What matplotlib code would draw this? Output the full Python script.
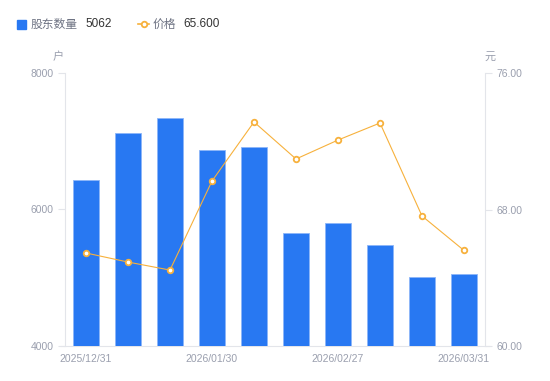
import matplotlib.pyplot as plt
import numpy as np

plt.rcParams['font.family'] = ['Noto Sans CJK SC', 'DejaVu Sans']

dates = ['2025/12/31', '2026/01/09', '2026/01/20', '2026/01/30', '2026/02/10',
         '2026/02/13', '2026/02/27', '2026/03/10', '2026/03/20', '2026/03/31']
holders = [6432, 7121, 7341, 6872, 6916, 5656, 5802, 5480, 5011, 5062]
price = [65.45, 64.92, 64.45, 69.67, 73.13, 70.96, 72.07, 73.07, 67.62, 65.60]

left_ticks = [4000, 6000, 8000]
right_ticks = [60.0, 68.0, 76.0]

blue = '#2878F2'
orange = '#F7B13C'
axis_col = '#E3E5EA'
tick_col = '#9A9FAE'
num_font = ['Liberation Sans', 'DejaVu Sans']

fig = plt.figure(figsize=(5.5, 3.81), dpi=100)
ax = fig.add_axes([65 / 550, 35 / 381, 420 / 550, 273 / 381])
x = np.arange(len(dates))

ax.bar(x, holders, width=0.6, color=blue, edgecolor='#8DB6F8', linewidth=0.6, zorder=2)
ax.set_xlim(-0.5, len(dates) - 0.5)
ax.set_ylim(4000, 8000)
ax.set_yticks(left_ticks)
ax.set_yticklabels([str(t) for t in left_ticks], family=num_font)
ax.set_xticks(x[::3])
ax.set_xticklabels(dates[::3], family=num_font)

ax2 = ax.twinx()
ax2.plot(x, price, color=orange, linewidth=0.8, marker='o', markersize=4,
         markerfacecolor='white', markeredgecolor=orange, markeredgewidth=1.3, zorder=3)
ax2.set_ylim(60, 76)
ax2.set_yticks(right_ticks)
ax2.set_yticklabels([f'{t:.2f}' for t in right_ticks], family=num_font)

for a in (ax, ax2):
    for s in a.spines.values():
        s.set_visible(False)
    a.tick_params(colors=tick_col, labelsize=7.5, length=5, width=0.8, pad=3)
    a.tick_params(axis='y', color=axis_col)
    a.tick_params(axis='x', length=0, pad=6)

ax.spines['left'].set_visible(True)
ax.spines['left'].set_color(axis_col)
ax.spines['bottom'].set_visible(True)
ax.spines['bottom'].set_color(axis_col)
ax2.spines['right'].set_visible(True)
ax2.spines['right'].set_color(axis_col)
ax.spines['bottom'].set_bounds(-0.6, len(dates) - 0.4)
ax.spines['bottom'].set_zorder(0)

# unit labels
fig.text(58 / 550, 1 - 57 / 381, '户', color=tick_col, fontsize=8, ha='center', va='center')
fig.text(490 / 550, 1 - 57 / 381, '元', color=tick_col, fontsize=8, ha='center', va='center')

# legend row
ly = 1 - 24 / 381
fig.patches.append(plt.Rectangle((17 / 550, 1 - 28.5 / 381), 9 / 550, 9 / 381,
                                 transform=fig.transFigure, color=blue, figure=fig))
fig.text(31 / 550, ly, '股东数量', color='#6E7383', fontsize=8.5, va='center')
fig.text(85 / 550, ly, str(holders[-1]), color='#333333', fontsize=8.5, va='center',
         family=num_font)
fig.lines.append(plt.Line2D([138 / 550, 149 / 550], [ly, ly], transform=fig.transFigure,
                            color=orange, linewidth=1.2, figure=fig))
fig.lines.append(plt.Line2D([143.5 / 550], [ly], transform=fig.transFigure, color=orange,
                            marker='o', markersize=4, markerfacecolor='white',
                            markeredgewidth=1.3, figure=fig))
fig.text(153 / 550, ly, '价格', color='#6E7383', fontsize=8.5, va='center')
fig.text(183 / 550, ly, f'{price[-1]:.3f}', color='#333333', fontsize=8.5, va='center',
         family=num_font)

fig.savefig('out.png', dpi=100)
